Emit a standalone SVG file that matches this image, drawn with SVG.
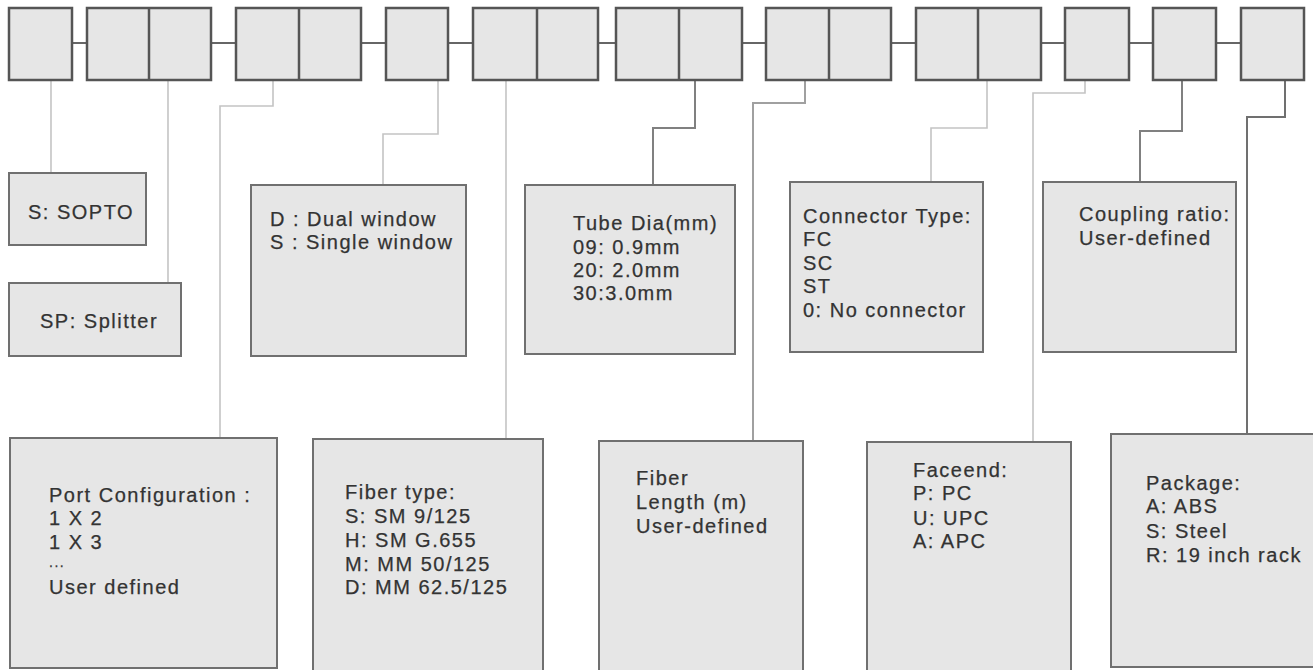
<svg xmlns="http://www.w3.org/2000/svg" width="1313" height="670" viewBox="0 0 1313 670">
  <style>
    .cell { fill: #e6e6e6; stroke: #555; stroke-width: 2.5; }
    .div { stroke: #555; stroke-width: 2.5; }
    .box { fill: #e6e6e6; stroke: #707070; stroke-width: 2; }
    .link { stroke: #666; stroke-width: 2; fill: none; }
    .lead { stroke: #c4c4c4; stroke-width: 1.6; fill: none; }
    .leadd { stroke: #808080; stroke-width: 2; fill: none; }
    text { font-family: "Liberation Sans", Arial, sans-serif; font-size: 20px; fill: #333; stroke: #333; stroke-width: 0.25; letter-spacing: 1.5px; }
    .dots { font-size: 14px; }
  </style>
  <rect width="1313" height="670" fill="#ffffff"/>

  <g id="connectors">
    <line class="link" x1="72" y1="43" x2="87" y2="43"/>
    <line class="link" x1="211" y1="43" x2="236" y2="43"/>
    <line class="link" x1="361" y1="43" x2="386" y2="43"/>
    <line class="link" x1="448" y1="43" x2="473" y2="43"/>
    <line class="link" x1="598" y1="43" x2="616" y2="43"/>
    <line class="link" x1="742" y1="43" x2="766" y2="43"/>
    <line class="link" x1="891" y1="43" x2="916" y2="43"/>
    <line class="link" x1="1041" y1="43" x2="1065" y2="43"/>
    <line class="link" x1="1129" y1="43" x2="1153" y2="43"/>
    <line class="link" x1="1216" y1="43" x2="1241" y2="43"/>
    <polyline class="lead" points="51,80 51,173"/>
    <polyline class="lead" points="168,80 168,283"/>
    <polyline class="lead" points="273,80 273,106 220,106 220,438"/>
    <polyline class="lead" points="438,80 438,134 383,134 383,185"/>
    <polyline class="lead" points="506,80 506,439"/>
    <polyline class="leadd" points="695,80 695,128 653,128 653,185"/>
    <polyline class="leadd" points="805,80 805,103 753,103 753,441" style="stroke:#a0a0a0"/>
    <polyline class="lead" points="987,80 987,128 931,128 931,182"/>
    <polyline class="lead" points="1085,80 1085,93 1033,93 1033,442"/>
    <polyline class="leadd" points="1182,80 1182,131 1140,131 1140,182"/>
    <polyline class="leadd" points="1285,80 1285,117 1247,117 1247,434" style="stroke:#707070"/>
  </g>

  <g id="code-cells">
    <g id="cell1"><rect class="cell" x="9" y="8" width="63" height="72"/></g>
    <g id="cell2"><rect class="cell" x="87" y="8" width="124" height="72"/><line class="div" x1="149" y1="8" x2="149" y2="80"/></g>
    <g id="cell3"><rect class="cell" x="236" y="8" width="125" height="72"/><line class="div" x1="299" y1="8" x2="299" y2="80"/></g>
    <g id="cell4"><rect class="cell" x="386" y="8" width="62" height="72"/></g>
    <g id="cell5"><rect class="cell" x="473" y="8" width="125" height="72"/><line class="div" x1="537" y1="8" x2="537" y2="80"/></g>
    <g id="cell6"><rect class="cell" x="616" y="8" width="126" height="72"/><line class="div" x1="679" y1="8" x2="679" y2="80"/></g>
    <g id="cell7"><rect class="cell" x="766" y="8" width="125" height="72"/><line class="div" x1="829" y1="8" x2="829" y2="80"/></g>
    <g id="cell8"><rect class="cell" x="916" y="8" width="125" height="72"/><line class="div" x1="978" y1="8" x2="978" y2="80"/></g>
    <g id="cell9"><rect class="cell" x="1065" y="8" width="64" height="72"/></g>
    <g id="cell10"><rect class="cell" x="1153" y="8" width="63" height="72"/></g>
    <g id="cell11"><rect class="cell" x="1241" y="8" width="63" height="72"/></g>
  </g>

  <g id="node-sopto">
    <rect class="box" x="9" y="173" width="137" height="72"/>
    <text x="28" y="219">S: SOPTO</text>
  </g>
  <g id="node-splitter">
    <rect class="box" x="9" y="283" width="172" height="73"/>
    <text x="40" y="328">SP: Splitter</text>
  </g>
  <g id="node-window">
    <rect class="box" x="251" y="185" width="215" height="171"/>
    <text x="270" y="226">D : Dual window</text>
    <text x="270" y="249">S : Single window</text>
  </g>
  <g id="node-tube">
    <rect class="box" x="525" y="185" width="210" height="169"/>
    <text x="573" y="230">Tube Dia(mm)</text>
    <text x="573" y="254">09: 0.9mm</text>
    <text x="573" y="277">20: 2.0mm</text>
    <text x="573" y="300">30:3.0mm</text>
  </g>
  <g id="node-connector">
    <rect class="box" x="790" y="182" width="193" height="170"/>
    <text x="803" y="223">Connector Type:</text>
    <text x="803" y="246">FC</text>
    <text x="803" y="270">SC</text>
    <text x="803" y="293">ST</text>
    <text x="803" y="317">0: No connector</text>
  </g>
  <g id="node-coupling">
    <rect class="box" x="1043" y="182" width="193" height="170"/>
    <text x="1079" y="221">Coupling ratio:</text>
    <text x="1079" y="245">User-defined</text>
  </g>
  <g id="node-port">
    <rect class="box" x="10" y="438" width="267" height="230"/>
    <text x="49" y="502">Port Configuration :</text>
    <text x="49" y="525">1 X 2</text>
    <text x="49" y="549">1 X 3</text>
    <text class="dots" x="49" y="567">...</text>
    <text x="49" y="594">User defined</text>
  </g>
  <g id="node-fiber">
    <rect class="box" x="313" y="439" width="230" height="232"/>
    <text x="345" y="499">Fiber type:</text>
    <text x="345" y="523">S: SM 9/125</text>
    <text x="345" y="547">H: SM G.655</text>
    <text x="345" y="571">M: MM 50/125</text>
    <text x="345" y="594">D: MM 62.5/125</text>
  </g>
  <g id="node-length">
    <rect class="box" x="599" y="441" width="204" height="231"/>
    <text x="636" y="485">Fiber</text>
    <text x="636" y="509">Length (m)</text>
    <text x="636" y="533">User-defined</text>
  </g>
  <g id="node-faceend">
    <rect class="box" x="867" y="442" width="204" height="230"/>
    <text x="913" y="477">Faceend:</text>
    <text x="913" y="500">P: PC</text>
    <text x="913" y="525">U: UPC</text>
    <text x="913" y="548">A: APC</text>
  </g>
  <g id="node-package">
    <rect class="box" x="1111" y="434" width="204" height="233"/>
    <text x="1146" y="490">Package:</text>
    <text x="1146" y="513">A: ABS</text>
    <text x="1146" y="538">S: Steel</text>
    <text x="1146" y="562">R: 19 inch rack</text>
  </g>
</svg>
